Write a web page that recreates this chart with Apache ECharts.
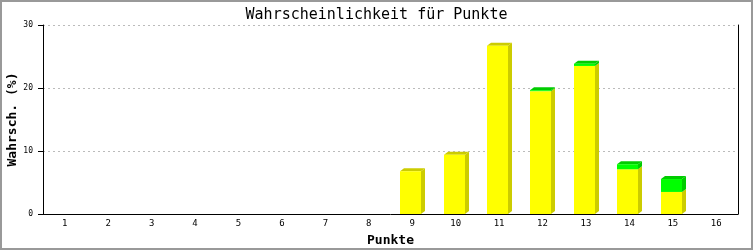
<!DOCTYPE html>
<html><head><meta charset="utf-8">
<script src="https://cdn.jsdelivr.net/npm/echarts@6/dist/echarts.min.js"></script>
<style>html,body{margin:0;padding:0;background:#fff}#c{width:753px;height:250px}</style>
</head><body><div id="c"></div>
<script>
const categories = ['1','2','3','4','5','6','7','8','9','10','11','12','13','14','15','16'];
const yellowValues = [0,0,0,0,0,0,0,0,6.8,9.4,26.7,19.5,23.5,7.1,3.5,0];
const greenValues  = [0,0,0,0,0,0,0,0,0,0,0,0.15,0.35,0.8,2.05,0];
const yTicks = [0,10,20,30];

const FONT = '"DejaVu Sans Mono", monospace';
const DX = 4, DY = 3;
const COL = {
  yFront:'#ffff00', ySide:'#cccc00',
  gFront:'#00ff00', gSide:'#00cc00'
};

function renderItem(params, api){
  const i = api.value(0), a = api.value(1), b = api.value(2);
  const children = [];
  if (a + b <= 0) return {type:'group', children};
  const base = api.coord([i, 0]);
  const cw = api.size([1, 0])[0];
  const bw = cw * 0.49;
  const l = Math.round(base[0] - 1.5 - bw/2), r = Math.round(l + bw);
  const segs = [];
  const yA = api.coord([i, a])[1], yB = api.coord([i, a + b])[1];
  if (a > 0) segs.push({top: yA, bot: base[1], f: COL.yFront, s: COL.ySide});
  if (b > 0) segs.push({top: yB, bot: yA, f: COL.gFront, s: COL.gSide});
  segs.forEach((sg, k) => {
    children.push({type:'polygon', shape:{points:[[r, sg.bot],[r+DX, sg.bot-DY],[r+DX, sg.top-DY],[r, sg.top]]}, style:{fill: sg.s}});
    if (k === segs.length - 1) {
      children.push({type:'polygon', shape:{points:[[l, sg.top],[l+DX, sg.top-DY],[r+DX, sg.top-DY],[r, sg.top]]}, style:{fill: sg.s}});
    }
    children.push({type:'rect', shape:{x:l, y:sg.top, width:r-l, height:sg.bot-sg.top}, style:{fill: sg.f}});
  });
  return {type:'group', children};
}

const data = categories.map((c, i) => [i, yellowValues[i], greenValues[i]]);

const chart = echarts.init(document.getElementById('c'), null, {renderer:'canvas'});
chart.setOption({
  animation:false,
  backgroundColor:'#fff',
  title:{text:'Wahrscheinlichkeit für Punkte', left:'center', top:3,
    textStyle:{fontFamily:FONT, fontSize:15, fontWeight:'normal', color:'#000'}},
  grid:{left:43, right:15, top:25, bottom:36, containLabel:false, outerBoundsMode:'none'},
  xAxis:{type:'category', data:categories,
    name:'Punkte', nameLocation:'middle', nameGap:20, nameMoveOverlap:false,
    nameTextStyle:{fontFamily:FONT, fontSize:13, fontWeight:'bold', color:'#000'},
    axisLine:{lineStyle:{color:'#000', width:1}}, axisTick:{show:false},
    axisLabel:{fontFamily:FONT, fontSize:9, color:'#000', margin:5}},
  yAxis:[{type:'value', min:0, max:30, interval:10,
    name:'Wahrsch. (%)', nameLocation:'middle', nameGap:24, nameRotate:90, nameMoveOverlap:false,
    nameTextStyle:{fontFamily:FONT, fontSize:13, fontWeight:'bold', color:'#000'},
    axisLine:{show:true, lineStyle:{color:'#000'}},
    axisTick:{show:true, length:5, lineStyle:{color:'#000'}},
    axisLabel:{fontFamily:FONT, fontSize:8, color:'#000', margin:10,
      formatter: v => yTicks.includes(v) ? String(v) : ''},
    splitLine:{show:true, lineStyle:{color:'#bbbbbb', type:[2,3]}}},
   {type:'value', min:0, max:30, interval:10, position:'right',
    axisLine:{show:true, onZero:false, lineStyle:{color:'#000'}},
    axisTick:{show:false}, axisLabel:{show:false}, splitLine:{show:false}}],
  series:[{type:'custom', renderItem, data, encode:{x:0, y:[1,2]}, clip:false}],
  graphic:[{type:'rect', shape:{x:1, y:1, width:751, height:248},
    style:{fill:'none', stroke:'#999', lineWidth:2}, z:100}]
});
</script></body></html>
